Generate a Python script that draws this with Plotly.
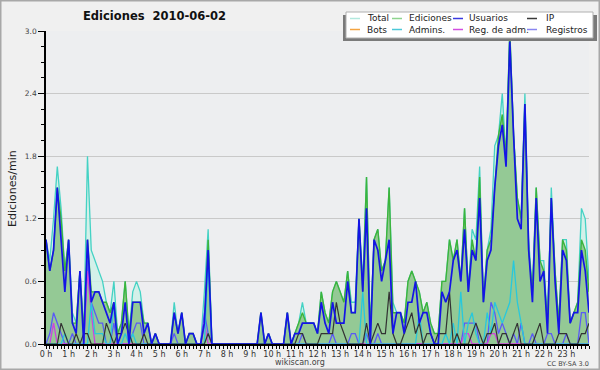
import plotly.graph_objects as go

# 10-minute slots over the day (0 = 00:00, 144 = 24:00)
slots = list(range(145))
hour_ticks = list(range(0, 144, 6))
hour_labels = [f"{h} h" for h in range(24)]

total = [
    1.0, 0.8, 1.2, 1.7, 1.3, 0.7, 1.0, 0.3, 0.2, 0.7, 0.1, 1.8,
    0.9, 0.8, 0.7, 0.6, 0.4, 0.3, 0.6, 0.1, 0.2, 0.6, 0.1, 0.5,
    0.6, 0.5, 0.2, 0.2, 0.0, 0.1, 0.0, 0.0, 0.0, 0.0, 0.4, 0.1,
    0.3, 0.0, 0.1, 0.1, 0.0, 0.0, 0.5, 1.1, 0.0, 0.0, 0.0, 0.0,
    0.0, 0.0, 0.0, 0.0, 0.0, 0.0, 0.0, 0.0, 0.0, 0.3, 0.0, 0.1,
    0.0, 0.0, 0.0, 0.0, 0.3, 0.0, 0.1, 0.2, 0.4, 0.2, 0.2, 0.2,
    0.1, 0.5, 0.3, 0.2, 0.5, 0.6, 0.5, 0.4, 0.7, 0.4, 0.4, 1.2,
    0.6, 1.6, 0.1, 1.0, 1.1, 0.7, 0.8, 1.5, 0.4, 0.3, 0.3, 0.2,
    0.6, 0.7, 0.6, 0.5, 0.3, 0.4, 0.2, 0.1, 0.1, 0.6, 0.6, 1.0,
    0.8, 1.0, 0.6, 1.3, 0.5, 1.1, 1.0, 1.7, 0.4, 0.9, 1.1, 1.9,
    2.0, 2.4, 1.8, 3.0, 2.0, 1.4, 1.2, 2.4, 1.0, 0.5, 1.5, 0.8,
    0.8, 0.2, 1.5, 0.7, 0.2, 1.0, 1.0, 0.2, 0.3, 0.4, 1.3, 1.2,
    0.6,
]
ediciones = [
    1.0, 0.7, 0.9, 1.5, 1.2, 0.7, 1.0, 0.2, 0.2, 0.7, 0.1, 1.0,
    0.5, 0.5, 0.5, 0.4, 0.4, 0.3, 0.4, 0.1, 0.2, 0.6, 0.1, 0.4,
    0.4, 0.4, 0.2, 0.2, 0.0, 0.1, 0.0, 0.0, 0.0, 0.0, 0.3, 0.1,
    0.3, 0.0, 0.1, 0.1, 0.0, 0.0, 0.2, 1.0, 0.0, 0.0, 0.0, 0.0,
    0.0, 0.0, 0.0, 0.0, 0.0, 0.0, 0.0, 0.0, 0.0, 0.3, 0.0, 0.1,
    0.0, 0.0, 0.0, 0.0, 0.3, 0.0, 0.1, 0.2, 0.3, 0.2, 0.2, 0.2,
    0.1, 0.5, 0.3, 0.2, 0.5, 0.6, 0.5, 0.4, 0.7, 0.3, 0.3, 1.2,
    0.5, 1.6, 0.1, 1.0, 1.1, 0.7, 0.8, 1.5, 0.3, 0.3, 0.3, 0.2,
    0.6, 0.7, 0.6, 0.5, 0.3, 0.4, 0.2, 0.1, 0.1, 0.6, 0.6, 1.0,
    0.8, 1.0, 0.6, 1.3, 0.5, 1.0, 0.8, 1.6, 0.4, 0.9, 1.0, 1.5,
    2.0, 2.2, 1.8, 3.0, 2.0, 1.4, 1.2, 2.3, 0.9, 0.5, 1.5, 0.8,
    0.7, 0.2, 1.4, 0.7, 0.2, 1.0, 0.9, 0.2, 0.3, 0.4, 1.0, 0.9,
    0.5,
]
usuarios = [
    1.0, 0.7, 0.9, 1.5, 1.0, 0.5, 1.0, 0.2, 0.1, 0.7, 0.0, 1.0,
    0.4, 0.5, 0.5, 0.4, 0.3, 0.2, 0.4, 0.0, 0.1, 0.4, 0.0, 0.4,
    0.4, 0.4, 0.1, 0.2, 0.0, 0.1, 0.0, 0.0, 0.0, 0.0, 0.3, 0.1,
    0.3, 0.0, 0.1, 0.1, 0.0, 0.0, 0.2, 0.9, 0.0, 0.0, 0.0, 0.0,
    0.0, 0.0, 0.0, 0.0, 0.0, 0.0, 0.0, 0.0, 0.0, 0.3, 0.0, 0.1,
    0.0, 0.0, 0.0, 0.0, 0.3, 0.0, 0.1, 0.1, 0.2, 0.2, 0.2, 0.2,
    0.1, 0.4, 0.2, 0.1, 0.4, 0.2, 0.2, 0.2, 0.6, 0.3, 0.3, 1.2,
    0.5, 1.3, 0.0, 1.0, 0.9, 0.6, 0.8, 1.0, 0.1, 0.3, 0.3, 0.1,
    0.4, 0.4, 0.6, 0.2, 0.3, 0.3, 0.1, 0.0, 0.0, 0.5, 0.4, 0.5,
    0.8, 0.9, 0.6, 1.1, 0.5, 0.9, 0.8, 1.4, 0.4, 0.8, 0.9, 1.5,
    1.9, 2.1, 1.7, 2.9, 2.0, 1.2, 1.1, 2.3, 0.9, 0.4, 1.4, 0.6,
    0.7, 0.1, 1.4, 0.6, 0.1, 0.9, 0.8, 0.2, 0.3, 0.3, 0.9, 0.7,
    0.3,
]
ip = [
    0.0, 0.0, 0.0, 0.0, 0.2, 0.1, 0.0, 0.0, 0.1, 0.0, 0.1, 0.1,
    0.0, 0.0, 0.0, 0.0, 0.2, 0.1, 0.0, 0.1, 0.1, 0.2, 0.1, 0.0,
    0.0, 0.0, 0.1, 0.0, 0.0, 0.0, 0.0, 0.0, 0.0, 0.0, 0.0, 0.0,
    0.0, 0.0, 0.0, 0.0, 0.0, 0.0, 0.0, 0.1, 0.0, 0.0, 0.0, 0.0,
    0.0, 0.0, 0.0, 0.0, 0.0, 0.0, 0.0, 0.0, 0.0, 0.0, 0.0, 0.0,
    0.0, 0.0, 0.0, 0.0, 0.0, 0.0, 0.0, 0.1, 0.1, 0.0, 0.0, 0.0,
    0.0, 0.1, 0.1, 0.1, 0.1, 0.4, 0.2, 0.1, 0.0, 0.0, 0.0, 0.0,
    0.0, 0.2, 0.0, 0.1, 0.2, 0.1, 0.1, 0.5, 0.1, 0.0, 0.0, 0.1,
    0.2, 0.3, 0.1, 0.2, 0.0, 0.1, 0.1, 0.0, 0.1, 0.1, 0.1, 0.5,
    0.0, 0.1, 0.0, 0.0, 0.0, 0.1, 0.2, 0.1, 0.0, 0.1, 0.1, 0.2,
    0.0, 0.1, 0.1, 0.0, 0.1, 0.2, 0.0, 0.0, 0.0, 0.0, 0.1, 0.2,
    0.0, 0.0, 0.0, 0.0, 0.1, 0.1, 0.1, 0.0, 0.0, 0.0, 0.1, 0.1,
    0.2,
]
admins = [
    0.0, 0.0, 0.0, 0.0, 0.0, 0.1, 0.0, 0.0, 0.0, 0.0, 0.0, 0.0,
    0.4, 0.1, 0.1, 0.1, 0.0, 0.0, 0.4, 0.0, 0.0, 0.1, 0.0, 0.1,
    0.0, 0.0, 0.0, 0.0, 0.0, 0.0, 0.0, 0.0, 0.0, 0.0, 0.0, 0.0,
    0.0, 0.0, 0.0, 0.0, 0.0, 0.0, 0.0, 0.8, 0.0, 0.0, 0.0, 0.0,
    0.0, 0.0, 0.0, 0.0, 0.0, 0.0, 0.0, 0.0, 0.0, 0.0, 0.0, 0.0,
    0.0, 0.0, 0.0, 0.0, 0.0, 0.0, 0.0, 0.0, 0.0, 0.0, 0.0, 0.0,
    0.0, 0.0, 0.0, 0.0, 0.0, 0.0, 0.0, 0.0, 0.0, 0.0, 0.0, 0.0,
    0.5, 0.0, 0.0, 0.0, 0.0, 0.0, 0.0, 0.0, 0.0, 0.0, 0.0, 0.0,
    0.0, 0.0, 0.0, 0.3, 0.0, 0.0, 0.0, 0.0, 0.0, 0.0, 0.1, 0.0,
    0.2, 0.0, 0.5, 0.0, 0.2, 0.3, 0.1, 0.0, 0.0, 0.3, 0.1, 0.4,
    0.3, 0.2, 0.3, 0.4, 0.8, 0.4, 0.2, 0.0, 0.0, 0.0, 0.0, 0.0,
    0.0, 0.0, 0.0, 0.0, 0.0, 0.0, 0.0, 0.0, 0.0, 0.0, 0.0, 0.0,
    0.0,
]
reg_adm = [
    0.0, 0.0, 0.2, 0.0, 0.0, 0.0, 0.0, 0.0, 0.0, 0.0, 0.0, 0.7,
    0.3, 0.0, 0.0, 0.0, 0.0, 0.0, 0.0, 0.0, 0.0, 0.0, 0.0, 0.0,
    0.0, 0.0, 0.0, 0.0, 0.0, 0.0, 0.0, 0.0, 0.0, 0.0, 0.0, 0.0,
    0.0, 0.0, 0.0, 0.0, 0.0, 0.0, 0.2, 0.0, 0.0, 0.0, 0.0, 0.0,
    0.0, 0.0, 0.0, 0.0, 0.0, 0.0, 0.0, 0.0, 0.0, 0.0, 0.0, 0.0,
    0.0, 0.0, 0.0, 0.0, 0.0, 0.0, 0.0, 0.0, 0.0, 0.0, 0.0, 0.0,
    0.0, 0.0, 0.0, 0.0, 0.0, 0.0, 0.0, 0.0, 0.0, 0.0, 0.0, 0.0,
    0.0, 0.0, 0.0, 0.0, 0.0, 0.0, 0.0, 0.0, 0.0, 0.0, 0.0, 0.0,
    0.0, 0.0, 0.0, 0.0, 0.0, 0.0, 0.0, 0.0, 0.0, 0.0, 0.0, 0.0,
    0.0, 0.0, 0.0, 0.1, 0.1, 0.0, 0.0, 0.0, 0.0, 0.0, 0.1, 0.1,
    0.0, 0.0, 0.0, 0.0, 0.0, 0.0, 0.0, 0.0, 0.0, 0.0, 0.0, 0.0,
    0.0, 0.0, 0.0, 0.0, 0.0, 0.0, 0.0, 0.0, 0.0, 0.0, 0.0, 0.0,
    0.0,
]
registros = [
    0.0, 0.1, 0.3, 0.2, 0.1, 0.0, 0.0, 0.1, 0.0, 0.0, 0.0, 0.8,
    0.4, 0.3, 0.2, 0.2, 0.0, 0.0, 0.2, 0.0, 0.0, 0.0, 0.0, 0.1,
    0.2, 0.2, 0.0, 0.0, 0.0, 0.0, 0.0, 0.0, 0.0, 0.0, 0.1, 0.0,
    0.0, 0.0, 0.0, 0.0, 0.0, 0.0, 0.3, 0.1, 0.0, 0.0, 0.0, 0.0,
    0.0, 0.0, 0.0, 0.0, 0.0, 0.0, 0.0, 0.0, 0.0, 0.0, 0.0, 0.0,
    0.0, 0.0, 0.0, 0.0, 0.0, 0.0, 0.0, 0.0, 0.1, 0.0, 0.0, 0.0,
    0.0, 0.0, 0.0, 0.0, 0.1, 0.0, 0.0, 0.0, 0.0, 0.1, 0.1, 0.0,
    0.0, 0.1, 0.0, 0.0, 0.1, 0.0, 0.0, 0.0, 0.0, 0.0, 0.0, 0.0,
    0.0, 0.0, 0.0, 0.0, 0.0, 0.0, 0.0, 0.0, 0.0, 0.0, 0.0, 0.0,
    0.0, 0.0, 0.0, 0.2, 0.2, 0.2, 0.2, 0.0, 0.0, 0.0, 0.4, 0.3,
    0.1, 0.2, 0.1, 0.0, 0.1, 0.0, 0.2, 0.0, 0.0, 0.1, 0.0, 0.0,
    0.0, 0.1, 0.1, 0.0, 0.0, 0.0, 0.1, 0.0, 0.0, 0.0, 0.3, 0.3,
    0.0,
]

for s in (total, ediciones, usuarios, ip, admins, reg_adm, registros):
    assert len(s) == len(slots), len(s)

legend_names = ["Total", "Ediciones", "Usuarios", "IP",
                "Bots", "Admins.", "Reg. de adm.", "Registros"]
legend_colors = ["#b2e8de", "#8fd48f", "#3a3ae0", "#3a3a3a",
                 "#f4a442", "#4cc8d8", "#d24ee0", "#8a86f0"]

FONT = "DejaVu Sans"
W, H = 600, 370
ML, MR, MT, MB = 46, 11, 31, 26
PW, PH = W - ML - MR, H - MT - MB


def px(x):
    return (x - ML) / PW


def py(y):
    return (H - MB - y) / PH


fig = go.Figure()

fig.add_trace(go.Scatter(x=slots, y=total, mode="lines", fill="tozeroy",
                         fillcolor="rgba(206,240,232,0.85)",
                         line=dict(color="#44d2c4", width=1.3),
                         name="Total", showlegend=False, hoverinfo="skip"))
fig.add_trace(go.Scatter(x=slots, y=ediciones, mode="lines", fill="tozeroy",
                         fillcolor="#94c995",
                         line=dict(color="#3cb43c", width=1.4),
                         name="Ediciones", showlegend=False, hoverinfo="skip"))
fig.add_trace(go.Scatter(x=slots, y=registros, mode="lines",
                         line=dict(color="#5a5af5", width=1.3),
                         name="Registros", showlegend=False, hoverinfo="skip"))
fig.add_trace(go.Scatter(x=slots, y=reg_adm, mode="lines",
                         line=dict(color="#d040e0", width=1.3),
                         name="Reg. de adm.", showlegend=False, hoverinfo="skip"))
fig.add_trace(go.Scatter(x=slots, y=admins, mode="lines",
                         line=dict(color="#28c8dc", width=1.3),
                         name="Admins.", showlegend=False, hoverinfo="skip"))
fig.add_trace(go.Scatter(x=slots, y=ip, mode="lines",
                         line=dict(color="#333333", width=1.2),
                         name="IP", showlegend=False, hoverinfo="skip"))
fig.add_trace(go.Scatter(x=slots, y=usuarios, mode="lines",
                         line=dict(color="#1414e6", width=1.7),
                         name="Usuarios", showlegend=False, hoverinfo="skip"))

shapes = []
annotations = []

# outer frame
shapes.append(dict(type="rect", xref="paper", yref="paper",
                   x0=px(0.5), x1=px(W - 0.5), y0=py(0.5), y1=py(H - 0.5),
                   line=dict(color="#a8a8a8", width=2), fillcolor="rgba(0,0,0,0)",
                   layer="above"))

# legend box with shadow
lx0, lx1, ly0, ly1 = 346, 593, 12, 38
shapes.append(dict(type="rect", xref="paper", yref="paper",
                   x0=px(lx0 - 3), x1=px(lx1 + 4), y0=py(ly0 + 3), y1=py(ly1 + 3),
                   line=dict(width=0), fillcolor="#7a7a7a", layer="above"))
shapes.append(dict(type="rect", xref="paper", yref="paper",
                   x0=px(lx0), x1=px(lx1), y0=py(ly0), y1=py(ly1),
                   line=dict(color="#b0b0b0", width=1), fillcolor="#ffffff",
                   layer="above"))
col_line_x = [350, 392, 453, 527]
col_text_x = [366, 408, 468, 545]
row_y = [18.5, 29.5]
for k, (name, col) in enumerate(zip(legend_names, legend_colors)):
    r, c = divmod(k, 4)
    yy = row_y[r]
    shapes.append(dict(type="line", xref="paper", yref="paper",
                       x0=px(col_line_x[c]), x1=px(col_line_x[c] + 10),
                       y0=py(yy), y1=py(yy),
                       line=dict(color=col, width=1.5), layer="above"))
    annotations.append(dict(text=name, xref="paper", yref="paper",
                            x=px(col_text_x[c]), y=py(yy), xanchor="left",
                            yanchor="middle", showarrow=False, borderpad=0,
                            font=dict(family=FONT, size=9, color="#222222")))

# title
annotations.append(dict(text="Ediciones\u00a0\u00a02010-06-02", xref="paper", yref="paper",
                        x=px(154), y=py(16), xanchor="center", yanchor="middle",
                        showarrow=False,
                        font=dict(family=FONT, size=11.5, color="#111111",
                                  weight="bold")))
# y axis title
annotations.append(dict(text="Ediciones/min", xref="paper", yref="paper",
                        x=px(12), y=py(188), xanchor="center", yanchor="middle",
                        textangle=-90, showarrow=False,
                        font=dict(family=FONT, size=11, color="#222222")))
# footer
annotations.append(dict(text="wikiscan.org", xref="paper", yref="paper",
                        x=px(300), y=py(362.5), xanchor="center", yanchor="middle",
                        showarrow=False, borderpad=0,
                        font=dict(family=FONT, size=8, color="#444444")))
annotations.append(dict(text="CC BY-SA 3.0", xref="paper", yref="paper",
                        x=px(590), y=py(364), xanchor="right", yanchor="middle",
                        showarrow=False, borderpad=0,
                        font=dict(family=FONT, size=6.5, color="#444444")))

fig.update_layout(
    width=W, height=H,
    margin=dict(l=ML, r=MR, t=MT, b=MB, pad=0),
    paper_bgcolor="#f0f0f0",
    plot_bgcolor="#edeef0",
    showlegend=False,
    shapes=shapes,
    annotations=annotations,
    xaxis=dict(range=[0, 144], tickmode="array", tickvals=hour_ticks,
               ticktext=hour_labels, ticks="outside", ticklen=3,
               tickcolor="#000000", tickwidth=1,
               showgrid=False, zeroline=False,
               showline=True, linecolor="#000000", linewidth=2,
               tickfont=dict(family=FONT, size=8, color="#333333"),
               minor=dict(tickmode="linear", tick0=0, dtick=1, ticks="outside",
                          ticklen=3, tickcolor="#000000", tickwidth=1,
                          showgrid=False),
               fixedrange=True),
    yaxis=dict(range=[0, 3.0], tickmode="linear", tick0=0, dtick=0.6,
               tickformat=".1f", ticks="outside", ticklen=6,
               tickcolor="#000000", tickwidth=1,
               showgrid=True, gridcolor="#c9c9c9", gridwidth=1,
               zeroline=False, showline=True, linecolor="#000000", linewidth=1.5,
               tickfont=dict(family=FONT, size=7.5, color="#444444"),
               minor=dict(tickmode="linear", tick0=0, dtick=0.15, ticks="outside",
                          ticklen=3, tickcolor="#000000", tickwidth=1,
                          showgrid=False),
               fixedrange=True),
)
try:
    fig.update_xaxes(ticklabelstandoff=-2)
except (ValueError, TypeError):
    pass

fig.write_html(
    "out.html",
    config={"displayModeBar": False},
    post_script="document.body.style.margin='0';document.body.style.overflow='hidden';",
)
